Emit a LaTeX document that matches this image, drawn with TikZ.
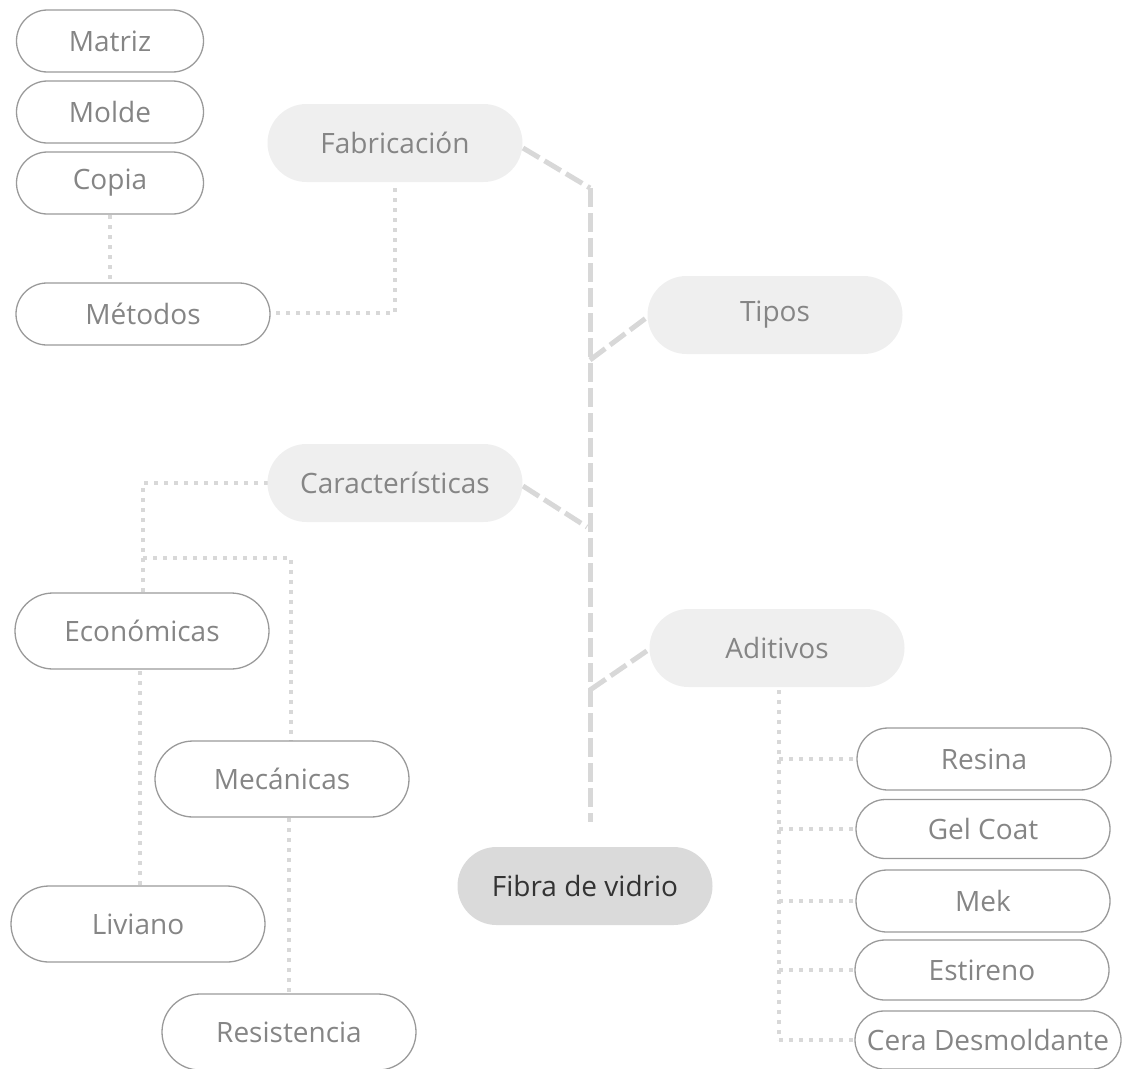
\documentclass[tikz,border=0pt]{standalone}
\usepackage{fontspec}
\setmainfont{Open Sans}
\usetikzlibrary{shapes.misc}
\definecolor{boxline}{HTML}{9A9A9A}
\definecolor{boxtext}{HTML}{858585}
\definecolor{linkgray}{HTML}{D8D8D8}
\definecolor{topicfill}{HTML}{EFEFEF}
\definecolor{rootfill}{HTML}{DADADA}
\tikzset{
  leaf/.style={rounded rectangle, draw=boxline, line width=1.3pt, text=boxtext,
    minimum width=254pt, minimum height=62pt, inner sep=0pt,
    font=\fontsize{28}{32}\selectfont},
  topic/.style={rounded rectangle, fill=topicfill, text=boxtext,
    minimum width=255pt, minimum height=78pt, inner sep=0pt,
    font=\fontsize{28}{32}\selectfont},
  root/.style={topic, fill=rootfill, text=black!80},
  trunk/.style={draw=linkgray, line width=5pt, dash pattern=on 19pt off 6pt},
  twig/.style={draw=linkgray, line width=4.5pt, dash pattern=on 4pt off 6pt}
}
\begin{document}
\begin{tikzpicture}[x=1pt,y=-1pt]
\useasboundingbox (0,0) rectangle (1123,1068);
% links
\coordinate (t0) at (590,188);
\coordinate (t1) at (590,360);
\coordinate (t2) at (587,527);
\coordinate (t3) at (590,690);
\coordinate (t4) at (590,822);
\coordinate (f1) at (395,313);
\coordinate (c1) at (143,483);
\coordinate (c2) at (143,558);
\coordinate (c3) at (291,558);
\coordinate (a0) at (779,1040);
\draw [trunk] (t0) -- (t4);
\draw [trunk] (523,148) -- (t0);
\draw [trunk] (t1) -- (650,315);
\draw [trunk] (523,486) -- (t2);
\draw [trunk] (t3) -- (651,648);
\draw [twig] (395,188) -- (f1) -- (272,313);
\draw [twig] (110,215) -- (110,284);
\draw [twig] (268,483) -- (c1) -- (143,593);
\draw [twig] (c2) -- (c3) -- (291,741);
\draw [twig] (140,671) -- (140,886);
\draw [twig] (289,818) -- (289,994);
\draw [twig] (779,690) -- (a0);
\draw [twig] (779,759) -- (857,759);
\draw [twig] (779,829) -- (856,829);
\draw [twig] (779,901) -- (856,901);
\draw [twig] (779,970) -- (855,970);
\draw [twig] (a0) -- (855,1040);
% nodes
\node [leaf, minimum width=187pt] (matriz) at (110,41) {Matriz};
\node [leaf, minimum width=187pt] (molde) at (110,112) {Molde};
\node [leaf, minimum width=187pt] (copia) at (110,183) {Copia};
\node [leaf] (metodos) at (143,314) {Métodos};
\node [topic] (fab) at (395,143) {Fabricación};
\node [topic] (tipos) at (775,315) {Tipos};
\node [topic] (car) at (395,483) {Características};
\node [topic] (adit) at (777,648) {Aditivos};
\node [root] (fibra) at (585,886) {Fibra de vidrio};
\node [leaf, minimum height=76pt] (econ) at (142,631) {Económicas};
\node [leaf, minimum height=76pt] (mec) at (282,779) {Mecánicas};
\node [leaf, minimum height=76pt] (liv) at (138,924) {Liviano};
\node [leaf, minimum height=76pt] (res) at (289,1032) {Resistencia};
\node [leaf] (resina) at (984,759) {Resina};
\node [leaf, minimum height=59pt] (gel) at (983,829) {Gel Coat};
\node [leaf] (mek) at (983,901) {Mek};
\node [leaf, minimum height=60pt] (est) at (982,970) {Estireno};
\node [leaf, minimum width=266pt, minimum height=58pt] (cera) at (988,1040) {Cera Desmoldante};
\end{tikzpicture}
\end{document}
